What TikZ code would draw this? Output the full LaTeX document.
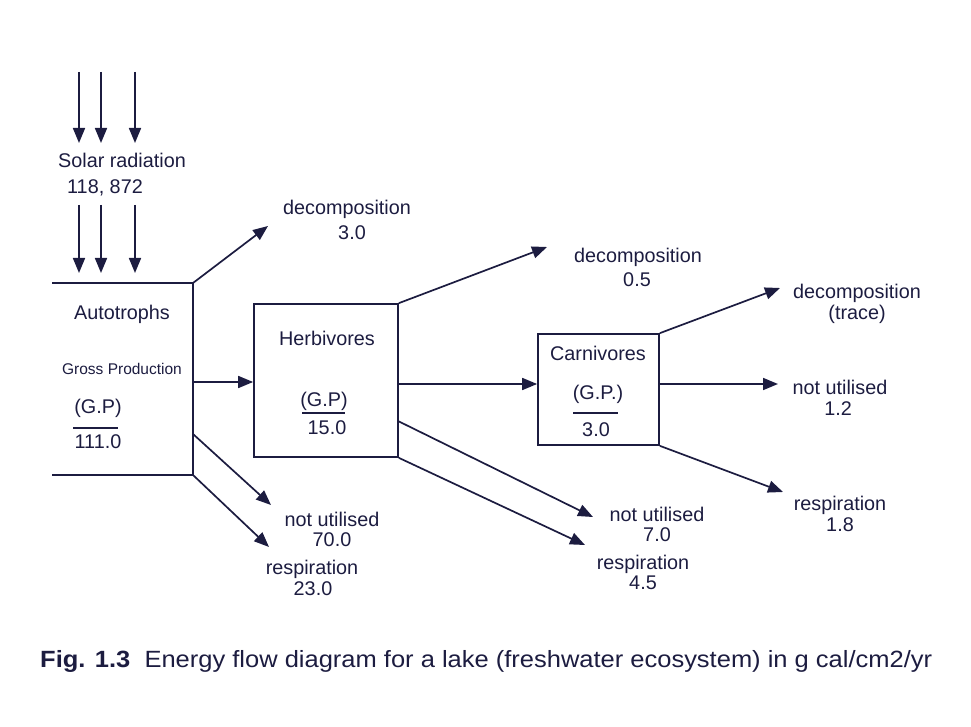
\documentclass[tikz,border=0pt]{standalone}
\usepackage{fontspec}
\setmainfont{Liberation Sans}
\usetikzlibrary{arrows.meta}
\definecolor{ink}{RGB}{28,28,64}
\begin{document}
\begin{tikzpicture}[x=1pt,y=-1pt,
  lbl/.style={text=ink,inner sep=0pt,text height=0.72em,text depth=0pt,yshift=-3pt,font=\fontsize{19.8}{23}\selectfont},
  small/.style={lbl,font=\fontsize{15.5}{18}\selectfont},
  box/.style={draw=ink,line width=1.7pt,inner sep=0pt},
  flow/.style={draw=ink,line width=1.7pt,-{Triangle[length=15pt,width=12pt]}},
  edge/.style={draw=ink,line width=1.7pt}]
\useasboundingbox (0,0) rectangle (971,727);
% solar radiation
\node[lbl] (solar) at (122,161) {Solar radiation};
\node[lbl] (solarv) at (105,187) {118, 872};
\foreach \x/\n in {79/a,101/b,135/c}{
  \coordinate (s1\n) at (\x,72);
  \coordinate (t1\n) at (\x,143);
  \coordinate (s2\n) at (\x,205);
  \coordinate (t2\n) at (\x,273);
  \draw[flow] (s1\n) -- (t1\n);
  \draw[flow] (s2\n) -- (t2\n);
}
% autotrophs (open box)
\coordinate (atl) at (52,283);
\coordinate (atr) at (193,283);
\coordinate (abr) at (193,475);
\coordinate (abl) at (52,475);
\draw[edge] (atl) -- (atr) -- (abr) -- (abl);
\node[lbl] (auto) at (122,313) {Autotrophs};
\node[small] (gross) at (122,368) {Gross Production};
\node[lbl] (agp) at (98,407) {(G.P)};
\node[lbl] (agv) at (98,442) {111.0};
\coordinate (ar1) at (73,428);
\coordinate (ar2) at (118,428);
\draw[ink,line width=1.3pt] (ar1) -- (ar2);
% herbivores
\node[box,minimum width=144pt,minimum height=153pt] (herb) at (326,380.5) {};
\node[lbl] (herbt) at (327,339) {Herbivores};
\node[lbl] (hgp) at (324,400) {(G.P)};
\node[lbl] (hgv) at (327,428) {15.0};
\coordinate (hr1) at (302,413);
\coordinate (hr2) at (345,413);
\draw[ink,line width=1.3pt] (hr1) -- (hr2);
% carnivores
\node[box,minimum width=121pt,minimum height=111pt] (carn) at (598.5,389.5) {};
\node[lbl] (carnt) at (598,354) {Carnivores};
\node[lbl] (cgp) at (598,393) {(G.P.)};
\node[lbl] (cgv) at (596,430) {3.0};
\coordinate (cr1) at (573,413);
\coordinate (cr2) at (618,413);
\draw[ink,line width=1.3pt] (cr1) -- (cr2);
% autotroph outputs
\coordinate (amid) at (193,382);
\coordinate (anu) at (193,434);
\coordinate (ad) at (268,226);
\coordinate (anut) at (271,505);
\coordinate (art) at (269,547);
\draw[flow] (atr) -- (ad);
\draw[flow] (amid) -- (herb.west |- amid);
\draw[flow] (anu) -- (anut);
\draw[flow] (abr) -- (art);
\node[lbl] (ad1) at (347,208) {decomposition};
\node[lbl] (ad2) at (352,233) {3.0};
\node[lbl] (anu1) at (332,520) {not utilised};
\node[lbl] (anu2) at (332,540) {70.0};
\node[lbl] (ar1l) at (312,568) {respiration};
\node[lbl] (ar2l) at (313,589) {23.0};
% herbivore outputs
\coordinate (hmid) at (398,384);
\coordinate (hnu) at (398,421);
\coordinate (hd) at (547,247);
\coordinate (hnut) at (593,517);
\coordinate (hrt) at (585,545);
\draw[flow] (herb.north east) -- (hd);
\draw[flow] (hmid) -- (carn.west |- hmid);
\draw[flow] (hnu) -- (hnut);
\draw[flow] (herb.south east) -- (hrt);
\node[lbl] (hd1) at (638,256) {decomposition};
\node[lbl] (hd2) at (637,280) {0.5};
\node[lbl] (hnu1) at (657,515) {not utilised};
\node[lbl] (hnu2) at (657,535) {7.0};
\node[lbl] (hr1l) at (643,563) {respiration};
\node[lbl] (hr2l) at (643,583) {4.5};
% carnivore outputs
\coordinate (cmid) at (659,384);
\coordinate (cd) at (780,288);
\coordinate (cnut) at (778,384);
\coordinate (crt) at (783,492);
\draw[flow] (carn.north east) -- (cd);
\draw[flow] (cmid) -- (cnut);
\draw[flow] (carn.south east) -- (crt);
\node[lbl] (cd1) at (857,292) {decomposition};
\node[lbl] (cd2) at (857,313) {(trace)};
\node[lbl] (cnu1) at (840,388) {not utilised};
\node[lbl] (cnu2) at (838,409) {1.2};
\node[lbl] (cr1l) at (840,504) {respiration};
\node[lbl] (cr2l) at (840,525) {1.8};
% caption
\node[lbl,anchor=west,font=\fontsize{23.5}{27}\selectfont] (cap) at (40,661)
  {\resizebox{892pt}{\height}{\textbf{Fig. 1.3}\ \ Energy flow diagram for a lake (freshwater ecosystem) in g cal/cm2/yr}};
\end{tikzpicture}
\end{document}
